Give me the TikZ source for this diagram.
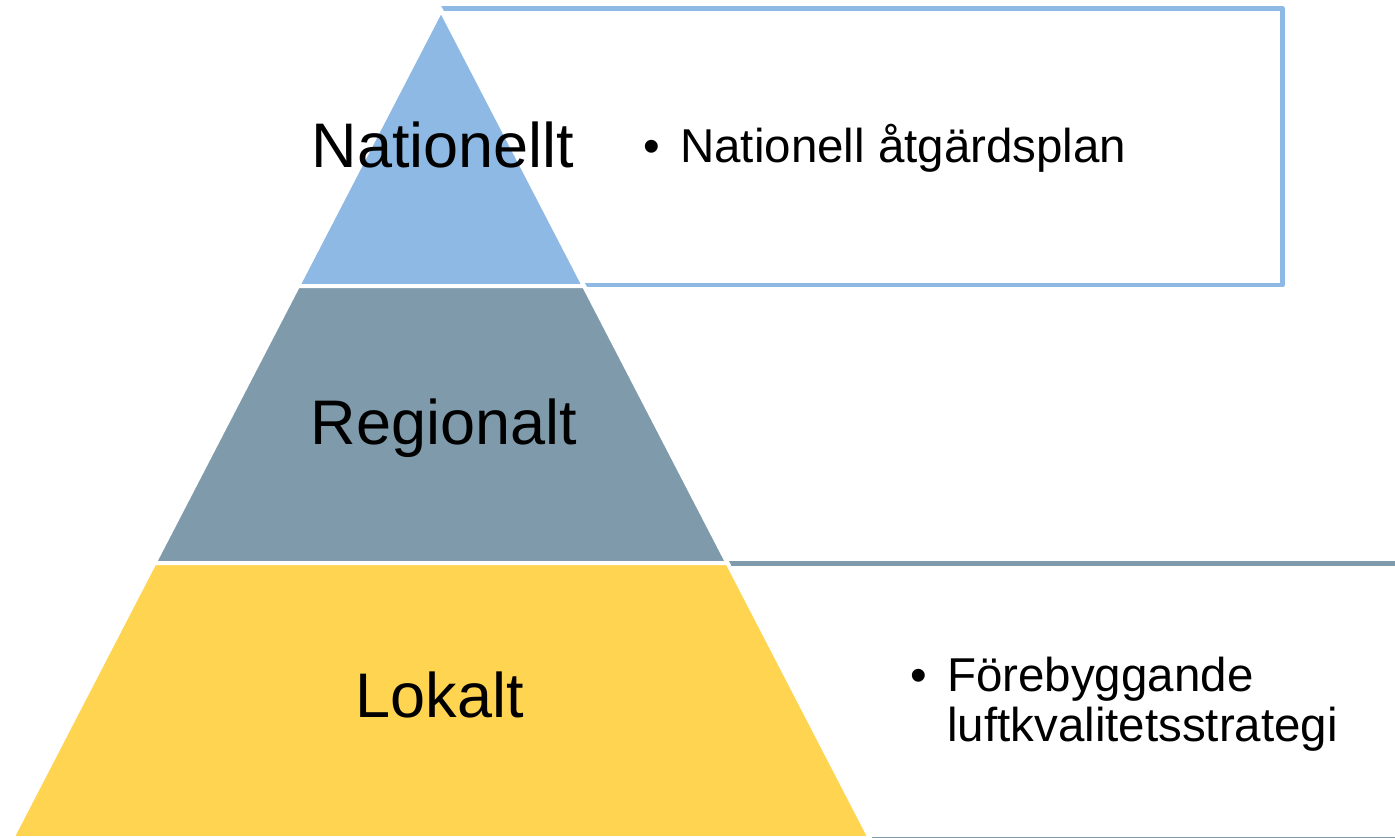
\documentclass[tikz,border=0pt]{standalone}
\usepackage{fontspec}
\setmainfont{Liberation Sans}
\definecolor{topblue}{HTML}{8EB9E4}
\definecolor{midgray}{HTML}{7F9AAB}
\definecolor{lowyellow}{HTML}{FED451}
\tikzset{
  layer/.style={draw=white, line width=4pt, line join=miter},
  level/.style={anchor=base, inner sep=0pt, font=\fontsize{63}{63}\selectfont},
  item/.style={anchor=base west, inner sep=0pt, font=\fontsize{47.5}{50}\selectfont},
  frame/.style={line width=4.5pt, line join=round, line cap=butt}
}
\begin{document}
\begin{tikzpicture}[x=1pt,y=-1pt]
\useasboundingbox (0,0) rectangle (1395,838);
% boxes behind the pyramid
\draw[frame, topblue] (441,8.5) -- (1282.5,8.5) -- (1282.5,285) -- (441,285);
\draw[frame, midgray, line width=5pt] (441,563) -- (1400,563);
\draw[frame, midgray, line width=4pt] (441,838.5) -- (1400,838.5);
% pyramid layers
\filldraw[layer, fill=topblue] (441,10) -- (584,286) -- (298,286) -- cycle;
\filldraw[layer, fill=midgray] (298,286) -- (584,286) -- (727.5,563) -- (154.5,563) -- cycle;
\filldraw[layer, fill=lowyellow] (154.5,563) -- (727.5,563) -- (869.9,838) -- (12.1,838) -- cycle;
% labels
\node[level] (nat) at (443,167) {Nationellt};
\node[level] (reg) at (444,444) {Regionalt};
\node[level] (lok) at (439.5,717) {Lokalt};
% bullet texts
\node[item] (natitem) at (643,162) {\makebox[37pt][l]{•}Nationell åtgärdsplan};
\node[item] (lokitem1) at (910,691) {\makebox[37pt][l]{•}Förebyggande};
\node[item] (lokitem2) at (947,741) {luftkvalitetsstrategi};
\end{tikzpicture}
\end{document}
